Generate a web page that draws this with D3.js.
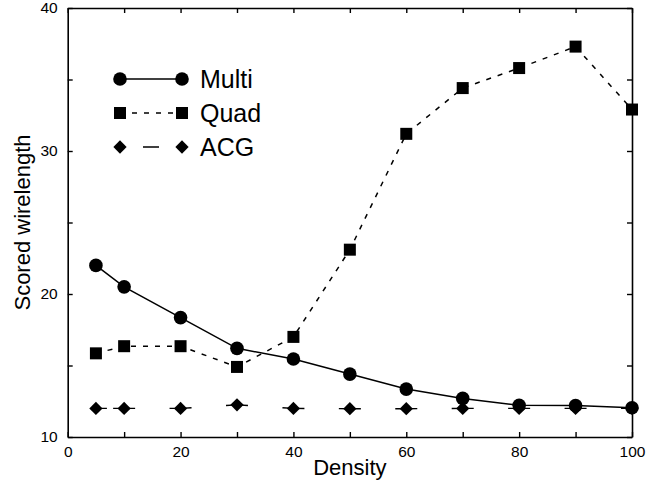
<!DOCTYPE html>
<html>
<head>
<meta charset="utf-8">
<script src="https://cdn.jsdelivr.net/npm/d3@7"></script>
<style>
  body { margin: 0; background: #fff; }
  text { font-family: "Liberation Sans", Arial, sans-serif; fill: #000; }
</style>
</head>
<body>
<div id="chart"></div>
<script>
const density = [5, 10, 20, 30, 40, 50, 60, 70, 80, 90, 100];
const multi = [22.0, 20.5, 18.35, 16.2, 15.45, 14.4, 13.35, 12.7, 12.22, 12.2, 12.05];
const quad = [15.85, 16.35, 16.35, 14.9, 17.0, 23.1, 31.2, 34.4, 35.8, 37.3, 32.9];
const acg = [12.0, 12.0, 12.0, 12.25, 12.0, 11.98, 11.98, 12.0, 12.0, 12.0, 12.0];
const xTicks = [0, 10, 20, 30, 40, 50, 60, 70, 80, 90, 100];
const yTicks = [10, 15, 20, 25, 30, 35, 40];

const margin = { top: 8, right: 28, bottom: 47, left: 67.7 };
const W = 660, H = 484;
const width = W - margin.left - margin.right;
const height = H - margin.top - margin.bottom;

const svg = d3.select("#chart").append("svg")
  .attr("width", W).attr("height", H);
const g = svg.append("g")
  .attr("transform", `translate(${margin.left},${margin.top})`);

const x = d3.scaleLinear().domain([0, 100]).range([0, width]);
const y = d3.scaleLinear().domain([10, 40]).range([height, 0]);

// frame + inward ticks
const tickLen = 5;
function styleAxis(sel) {
  sel.selectAll("path.domain").attr("stroke", "#000").attr("stroke-width", 1.6);
  sel.selectAll(".tick line").attr("stroke", "#000").attr("stroke-width", 1.4);
  sel.selectAll(".tick text")
    .style("font-family", "'Liberation Sans', Arial, sans-serif")
    .style("font-size", "15.5px").attr("fill", "#000");
}
g.append("g").attr("transform", `translate(0,${height})`)
  .call(d3.axisBottom(x).tickValues(xTicks).tickSizeInner(-tickLen).tickSizeOuter(0).tickPadding(9)
    .tickFormat(d => d % 20 === 0 ? d : ""))
  .call(styleAxis);
g.append("g")
  .call(d3.axisTop(x).tickValues(xTicks).tickSizeInner(-tickLen).tickSizeOuter(0).tickFormat(""))
  .call(styleAxis);
g.append("g")
  .call(d3.axisLeft(y).tickValues(yTicks).tickSizeInner(-tickLen).tickSizeOuter(0).tickPadding(10)
    .tickFormat(d => d % 10 === 0 ? d : ""))
  .call(styleAxis);
g.append("g").attr("transform", `translate(${width},0)`)
  .call(d3.axisRight(y).tickValues(yTicks).tickSizeInner(-tickLen).tickSizeOuter(0).tickFormat(""))
  .call(styleAxis);

// axis titles
svg.append("text")
  .attr("x", margin.left + width / 2).attr("y", 475)
  .attr("text-anchor", "middle").style("font-size", "22px")
  .text("Density");
svg.append("text")
  .attr("transform", `translate(30,${margin.top + height / 2}) rotate(-90)`)
  .attr("text-anchor", "middle").style("font-size", "22px")
  .text("Scored wirelength");

const pts = vals => density.map((d, i) => [x(d), y(vals[i])]);
const line = d3.line();
const diamond = d3.symbol().type(d3.symbolSquare).size(88);

// ACG: long dash, each segment dashed from both ends
const acgPts = pts(acg);
const acgG = g.append("g");
for (let i = 0; i < acgPts.length - 1; i++) {
  const a = acgPts[i], b = acgPts[i + 1];
  const len = Math.hypot(b[0] - a[0], b[1] - a[1]);
  const d = 11;
  acgG.append("path")
    .attr("d", line([a, b]))
    .attr("fill", "none").attr("stroke", "#000").attr("stroke-width", 1.4)
    .attr("stroke-dasharray", len > 2 * d ? `${d},${len - 2 * d},${d}` : null);
}
g.append("g").selectAll("path").data(acgPts).join("path")
  .attr("d", diamond)
  .attr("transform", d => `translate(${d[0]},${d[1]}) rotate(45)`)
  .attr("fill", "#000");

// Quad: short dash + squares
const quadPts = pts(quad);
g.append("path").attr("d", line(quadPts))
  .attr("fill", "none").attr("stroke", "#000").attr("stroke-width", 1.5)
  .attr("stroke-dasharray", "5,7");
g.append("g").selectAll("rect").data(quadPts).join("rect")
  .attr("x", d => d[0] - 6).attr("y", d => d[1] - 6)
  .attr("width", 12).attr("height", 12).attr("fill", "#000");

// Multi: solid + circles
const multiPts = pts(multi);
g.append("path").attr("d", line(multiPts))
  .attr("fill", "none").attr("stroke", "#000").attr("stroke-width", 1.5);
g.append("g").selectAll("circle").data(multiPts).join("circle")
  .attr("cx", d => d[0]).attr("cy", d => d[1]).attr("r", 6.8).attr("fill", "#000");

// legend
const leg = svg.append("g");
const lx0 = 120, lx1 = 182, ltx = 200;
const legRows = [
  { name: "Multi", y: 79, dash: null, mark: "circle" },
  { name: "Quad", y: 113, dash: "5,7", mark: "square" },
  { name: "ACG", y: 147, dash: "0,23,16,40", mark: "diamond" }
];
legRows.forEach(r => {
  leg.append("path").attr("d", line([[lx0, r.y], [lx1, r.y]]))
    .attr("stroke", "#000").attr("stroke-width", 1.5)
    .attr("stroke-dasharray", r.dash);
  [lx0, lx1].forEach(px => {
    if (r.mark === "circle") {
      leg.append("circle").attr("cx", px).attr("cy", r.y).attr("r", 6.8);
    } else if (r.mark === "square") {
      leg.append("rect").attr("x", px - 6).attr("y", r.y - 6).attr("width", 12).attr("height", 12);
    } else {
      leg.append("path").attr("d", diamond)
        .attr("transform", `translate(${px},${r.y}) rotate(45)`);
    }
  });
  leg.append("text").attr("x", ltx).attr("y", r.y + 9)
    .style("font-size", "25px").text(r.name);
});
</script>
</body>
</html>
